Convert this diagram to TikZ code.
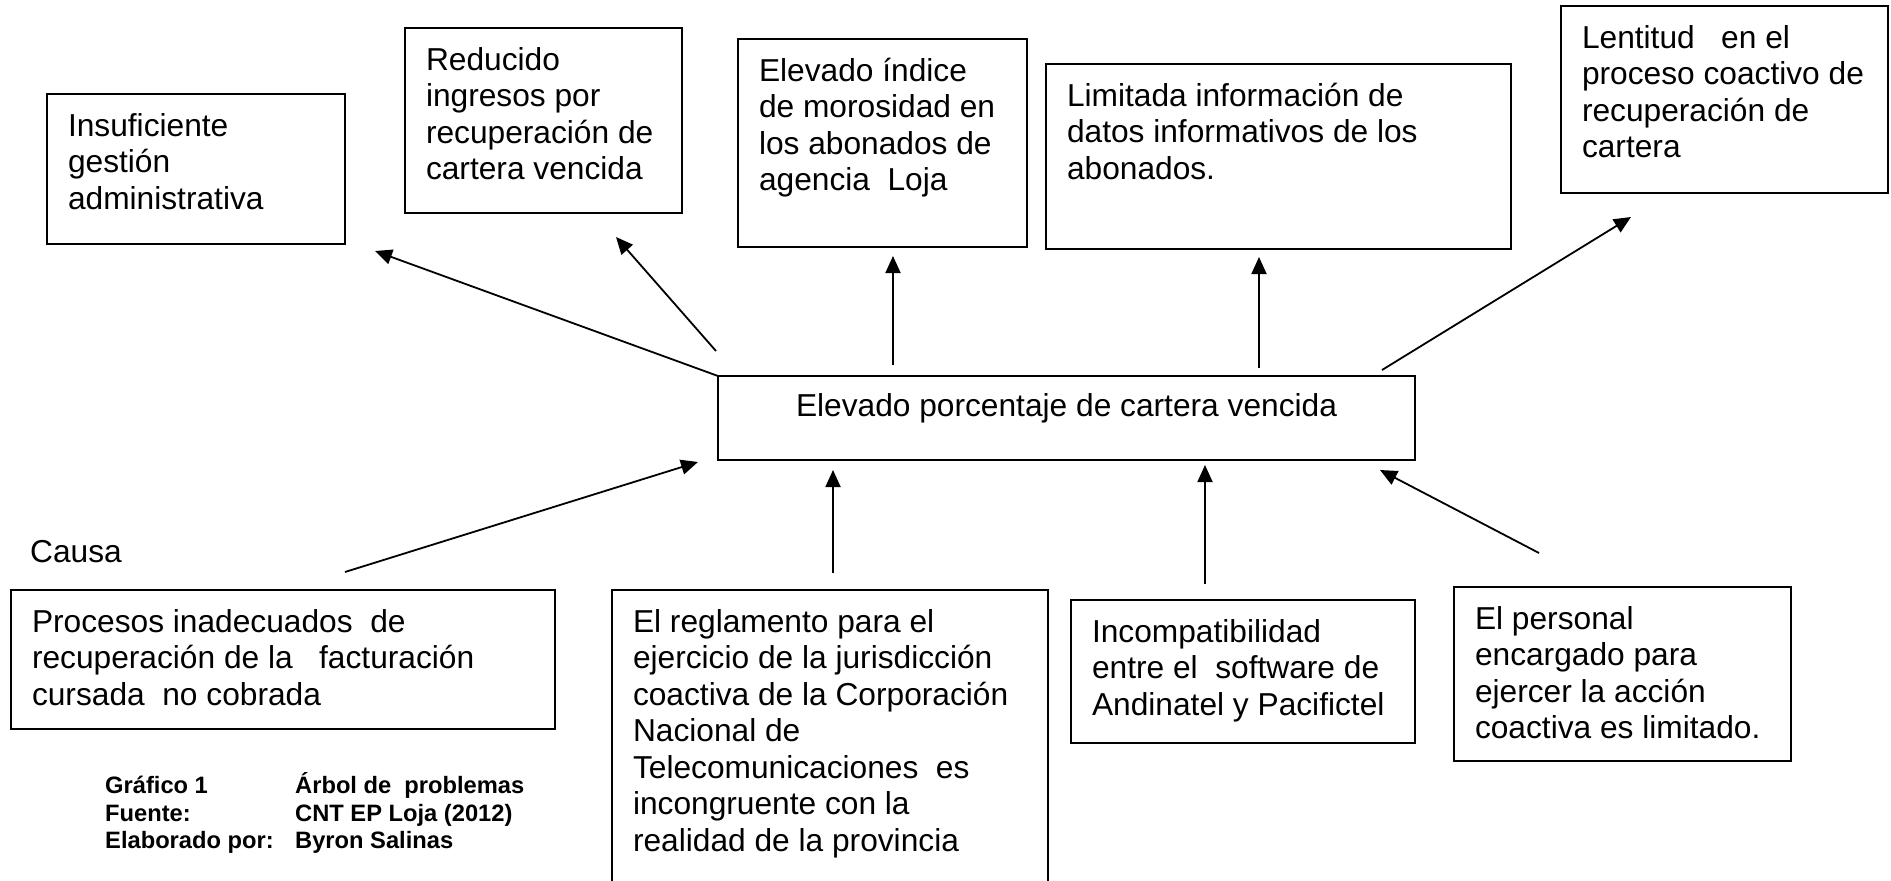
\documentclass[tikz,border=0pt]{standalone}
\usepackage{fontspec}
\setmainfont{Liberation Sans}
\usetikzlibrary{arrows.meta}
\tikzset{
  box/.style={draw, line width=1.8pt, anchor=north west, inner xsep=21pt, inner ysep=0pt, outer sep=0pt,
              font=\fontsize{31.7}{36.5}\selectfont},
  arr/.style={line width=1.8pt, -{Triangle[length=17pt,width=15pt]}},
  captext/.style={anchor=base west, inner sep=0pt, font=\bfseries\fontsize{23.7}{27.3}\selectfont},
  plaintext/.style={anchor=base west, inner sep=0pt, font=\fontsize{31.7}{36.5}\selectfont}
}
\newcommand{\bx}[3]{\parbox[c][#2pt][t]{#1pt}{\raggedright\rule{0pt}{42pt}#3}}
\begin{document}
\begin{tikzpicture}[x=1pt,y=-1pt]
\useasboundingbox (0,0) rectangle (1891,881);
% effects
\node[box] (ins) at (47,94) {\bx{256}{150}{\mbox{Insuficiente}\\\mbox{gestión}\\\mbox{administrativa}}};
\node[box] (red) at (405,28) {\bx{235}{185}{\mbox{Reducido}\\\mbox{ingresos por}\\\mbox{recuperación de}\\\mbox{cartera vencida}}};
\node[box] (ele) at (738,39) {\bx{247}{208}{\mbox{Elevado índice}\\\mbox{de morosidad en}\\\mbox{los abonados de}\\\mbox{agencia\ \ Loja}}};
\node[box] (lim) at (1046,64) {\bx{423}{185}{\mbox{Limitada información de}\\\mbox{datos informativos de los}\\\mbox{abonados.}}};
\node[box] (len) at (1561,6) {\bx{285}{187}{\mbox{Lentitud\ \ \ en el}\\\mbox{proceso coactivo de}\\\mbox{recuperación de}\\\mbox{cartera}}};
% central problem
\node[box] (cen) at (718,376) {\parbox[c][84pt][t]{655pt}{\centering\rule{0pt}{40pt}Elevado porcentaje de cartera vencida}};
% causes
\node[box] (pro) at (11,590) {\bx{502}{139}{\mbox{Procesos inadecuados\ \ de}\\\mbox{recuperación de la\ \ \ facturación}\\\mbox{cursada\ \ no cobrada}}};
\node[box] (reg) at (612,590) {\bx{394}{300}{\mbox{El reglamento para el}\\\mbox{ejercicio de la jurisdicción}\\\mbox{coactiva de la Corporación}\\\mbox{Nacional de}\\\mbox{Telecomunicaciones\ \ es}\\\mbox{incongruente con la}\\\mbox{realidad de la provincia}}};
\node[box] (inc) at (1071,600) {\bx{302}{143}{\mbox{Incompatibilidad}\\\mbox{entre el\ \ software de}\\\mbox{Andinatel y Pacifictel}}};
\node[box] (per) at (1454,587) {\bx{295}{174}{\mbox{El personal}\\\mbox{encargado para}\\\mbox{ejercer la acción}\\\mbox{coactiva es limitado.}}};
% labels
\node[plaintext] (causa) at (30,562) {Causa};
\node[captext] (g1) at (105,793) {Gráfico 1};
\node[captext] (g2) at (295,793) {Árbol de\ \ problemas};
\node[captext] (f1) at (105,821) {Fuente:};
\node[captext] (f2) at (295,821) {CNT EP Loja (2012)};
\node[captext] (e1) at (105,848) {Elaborado por:};
\node[captext] (e2) at (295,848) {Byron Salinas};
% arrow end points
\coordinate (t1) at (375,251);
\coordinate (s2) at (716,351);  \coordinate (t2) at (616,237);
\coordinate (s3) at (893,365);  \coordinate (t3) at (893,256);
\coordinate (s4) at (1259,368); \coordinate (t4) at (1259,257);
\coordinate (s5) at (1382,370); \coordinate (t5) at (1631,217);
\coordinate (c1) at (345,572);  \coordinate (d1) at (698,462);
\coordinate (c2) at (833,573);  \coordinate (d2) at (833,470);
\coordinate (c3) at (1205,584); \coordinate (d3) at (1205,465);
\coordinate (c4) at (1539,553); \coordinate (d4) at (1380,470);
% effect arrows
\draw[arr] (cen.north west) -- (t1);
\draw[arr] (s2) -- (t2);
\draw[arr] (s3) -- (t3);
\draw[arr] (s4) -- (t4);
\draw[arr] (s5) -- (t5);
% cause arrows
\draw[arr] (c1) -- (d1);
\draw[arr] (c2) -- (d2);
\draw[arr] (c3) -- (d3);
\draw[arr] (c4) -- (d4);
\end{tikzpicture}
\end{document}
